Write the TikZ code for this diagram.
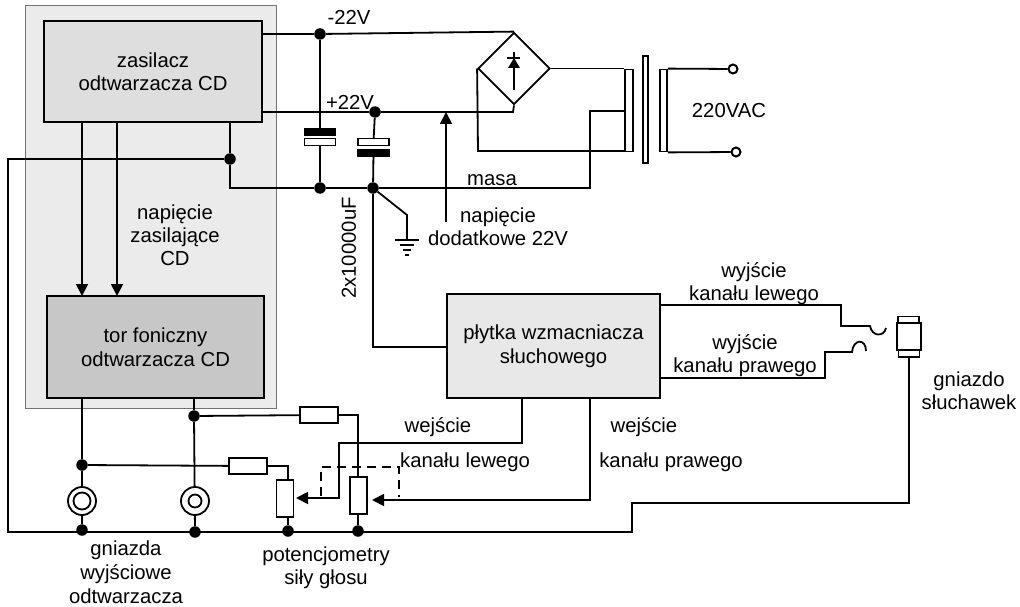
\documentclass[tikz,border=0pt]{standalone}
\usepackage{fontspec}
\setmainfont{Liberation Sans}
\usetikzlibrary{arrows.meta}
\usetikzlibrary{shapes.geometric}
\tikzset{
  wire/.style={line width=1.8pt},
  sig/.style={wire, -{Triangle[length=12pt,width=12pt]}},
  dot/.style={circle, fill=black, inner sep=0pt, minimum size=11.5pt},
  txt/.style={inner sep=0pt, font=\fontsize{20.3}{23}\selectfont, align=center},
  block/.style={draw, line width=1.8pt, inner sep=0pt, align=center, font=\fontsize{20.3}{23.5}\selectfont},
  part/.style={draw, line width=1.8pt, fill=white, inner sep=0pt},
  plate/.style={draw, fill=black, line width=1.4pt, inner sep=0pt, minimum width=31pt, minimum height=7pt},
  jack/.style={draw, circle, line width=1.8pt, fill=white, inner sep=0pt},
  term/.style={draw, circle, line width=2pt, fill=white, inner sep=0pt, minimum size=9pt}
}
\begin{document}
\begin{tikzpicture}[x=1pt, y=-1pt]
    \useasboundingbox (0,0) rectangle (1020,607);
    \node[draw=black!55, fill=black!8, line width=1pt, minimum width=251pt, minimum height=402pt, inner sep=0pt] (cd) at (150.5,207) {};
    \node[block, fill=black!13, minimum width=218pt, minimum height=101pt] (psu) at (153,71.5) {zasilacz\\odtwarzacza CD};
    \node[block, fill=black!22, minimum width=217pt, minimum height=102pt] (tor) at (155.5,347) {tor foniczny\\odtwarzacza CD};
    \node[block, fill=black!9, minimum width=213pt, minimum height=104pt] (amp) at (553.5,346) {płytka wzmacniacza\\słuchowego};

    % prostownik
    \node[draw, diamond, line width=1.8pt, aspect=1, minimum size=72pt, inner sep=0pt] (br) at (514,68.5) {};
    \coordinate (dd) at (514,90);
    \coordinate (du) at (514,52);
    \draw[line width=1.8pt] (dd) -- (du);
    \draw[line width=1.6pt] (507,58) -- (520,58);
    \fill (514,58) -- (520,68) -- (508,68) -- cycle;

    % transformator
    \node[part, minimum width=8pt, minimum height=82pt] (tp) at (629,110.5) {};
    \node[part, minimum width=5pt, minimum height=107pt] (tc) at (645.5,109.5) {};
    \node[part, minimum width=7pt, minimum height=82pt] (ts) at (663.5,110.5) {};
    \node[term] (ta) at (733,69) {};
    \node[term] (tb) at (736,152) {};
    \path[wire] (ts.north east) edge (ta)
                (ts.south east) edge (tb);

    % zasilanie
    \node[dot] (n1) at (320,34) {};
    \node[dot] (n2) at (375,112) {};
    \node[dot] (n3) at (320,188) {};
    \node[dot] (n4) at (373,188) {};
    \node[dot] (n5) at (230,159) {};
    \node[plate] (c1a) at (320,132) {};
    \node[plate, fill=white] (c1b) at (320,142) {};
    \node[plate, fill=white] (c2a) at (373.5,142) {};
    \node[plate] (c2b) at (373.5,153) {};
    \coordinate (pa) at (262,34);
    \coordinate (pb) at (262,112);
    \coordinate (pc) at (230,122);
    \coordinate (pd) at (230,188);
    \coordinate (be) at (513,112);
    \coordinate (me) at (590,188);
    \coordinate (mf) at (590,111);
    \coordinate (mg) at (625,111);
    \coordinate (ln) at (478,151);
    \coordinate (lm) at (625,151);
    \coordinate (pl) at (446,112);
    \coordinate (pk) at (446,222);
    \draw[wire] (pa) -- (n1) -- (br.north);
    \draw[wire] (pb) -- (n2) -- (be) -- (br.south);
    \draw[wire] (n1) -- (c1a);
    \draw[wire] (c1b) -- (n3);
    \draw[wire] (n2) -- (c2a);
    \draw[wire] (c2b) -- (n4);
    \draw[wire] (pc) -- (n5) -- (pd) -- (n3) -- (n4) -- (me) -- (mf) -- (mg);
    \draw[wire] (br.west) -- (ln) -- (lm);
    \draw[wire] (br.east) -- (br.east -| tp.west);
    \draw[sig] (pk) -- (pl);

    % uziemienie
    \coordinate (ga) at (407,215);
    \coordinate (gb) at (407,240);
    \draw[wire] (n4) -- (ga) -- (gb);
    \draw[wire] (395,240) -- (419,240);
    \draw[wire] (400,245) -- (414,245);
    \draw[wire] (403,250) -- (411,250);
    \draw[wire] (405,255) -- (409,255);
    \coordinate (am) at (373,347);
    \draw[wire] (n4) -- (am) -- (am -| amp.west);

    % zasilanie toru
    \coordinate (a1) at (82,122);
    \coordinate (a2) at (82,296);
    \coordinate (a3) at (117,122);
    \coordinate (a4) at (117,296);
    \draw[sig] (a1) -- (a2);
    \draw[sig] (a3) -- (a4);

    % gniazda i potencjometry
    \node[dot] (s1) at (82,465) {};
    \node[dot] (s2) at (194,416) {};
    \coordinate (b1) at (82,398);
    \coordinate (b2) at (194,398);
    \coordinate (k1) at (288,466);
    \coordinate (k2) at (358,415);
    \coordinate (k3) at (288,480);
    \node[dot] (g1) at (82,530) {};
    \node[dot] (g2) at (195,532) {};
    \node[dot] (g3) at (288,531) {};
    \node[dot] (g4) at (358,531) {};
    \draw[wire] (b1) -- (s1) -- (g1);
    \draw[wire] (b2) -- (s2) -- (g2);
    \node[jack, minimum size=28pt] (j1) at (82,501) {};
    \node[jack, minimum size=17pt] (j1i) at (82,501) {};
    \node[jack, minimum size=28pt] (j2) at (195,501) {};
    \node[jack, minimum size=13pt] (j2i) at (195,501) {};
    \node[part, minimum width=38pt, minimum height=16pt] (r1) at (248,466) {};
    \node[part, minimum width=38pt, minimum height=16pt] (r2) at (319,415) {};
    \draw[wire] (s1) -- (r1) -- (k1) -- (k3);
    \draw[wire] (s2) -- (r2) -- (k2) -- (g4);
    \draw[wire] (k3) -- (g3);
    \node[part, minimum width=17pt, minimum height=37pt] (p1) at (285,498.5) {};
    \node[part, minimum width=17pt, minimum height=37pt] (p2) at (358.5,495.5) {};

    % masa
    \coordinate (o1) at (8,159);
    \coordinate (o2) at (8,532);
    \coordinate (o3) at (632,532);
    \coordinate (o4) at (632,503);
    \coordinate (o5) at (909,503);
    \coordinate (o6) at (909,357);
    \draw[wire] (n5) -- (o1) -- (o2) -- (o3) -- (o4) -- (o5) -- (o6);

    % wejscia
    \coordinate (w1) at (522,398);
    \coordinate (w2) at (522,443);
    \coordinate (w3) at (339,443);
    \coordinate (w4) at (339,498);
    \coordinate (w5) at (296,498);
    \coordinate (v1) at (590,398);
    \coordinate (v2) at (590,500);
    \coordinate (v3) at (372,500);
    \draw[sig] (w1) -- (w2) -- (w3) -- (w4) -- (w5);
    \draw[sig] (v1) -- (v2) -- (v3);
    \coordinate (d1) at (321,496);
    \coordinate (d2) at (321,467);
    \coordinate (d3) at (399,467);
    \coordinate (d4) at (399,497);
    \draw[wire, dash pattern=on 9pt off 6pt] (d1) -- (d2) -- (d3) -- (d4);

    % wyjscia i gniazdo
    \coordinate (u1) at (660,305);
    \coordinate (u2) at (841,305);
    \coordinate (u3) at (841,326);
    \coordinate (u4) at (870,326);
    \coordinate (u5) at (886,328);
    \coordinate (l1) at (660,378);
    \coordinate (l2) at (825,378);
    \coordinate (l3) at (825,352);
    \coordinate (l4) at (852,352);
    \coordinate (l5) at (866,351);
    \draw[wire] (u1) -- (u2) -- (u3) -- (u4) .. controls (872,337) and (884,337) .. (u5);
    \draw[wire] (l1) -- (l2) -- (l3) -- (l4) .. controls (853,339) and (866,338) .. (l5);
    \node[part, minimum width=21pt, minimum height=7pt] (jc1) at (908.5,320) {};
    \node[part, minimum width=21pt, minimum height=7pt] (jc2) at (909,353.5) {};
    \node[part, minimum width=24pt, minimum height=27pt] (jb) at (909,336.5) {};

    % opisy
    \node[txt] (t1) at (349,17) {-22V};
    \node[txt] (t2) at (350,102) {+22V};
    \node[txt] (t3) at (492,180) {masa};
    \node[txt, rotate=90] (t4) at (349,248) {2x10000uF};
    \node[txt] (t5) at (175,235) {napięcie\\[0pt]zasilające\\[0pt]CD};
    \node[txt] (t6) at (498,227) {napięcie\\[0pt]dodatkowe 22V};
    \node[txt] (t7) at (729,111) {220VAC};
    \node[txt] (t8) at (754,284) {wyjście\\kanału lewego};
    \node[txt] (t9) at (745,356) {wyjście\\kanału prawego};
    \node[txt] (t10) at (969,391) {gniazdo\\słuchawek};
    \node[txt] (t11) at (438,427) {wejście};
    \node[txt] (t12) at (465,462) {kanału lewego};
    \node[txt] (t13) at (644,427) {wejście};
    \node[txt] (t14) at (671,462) {kanału prawego};
    \node[txt] (t15) at (126,572) {gniazda\\[1pt]wyjściowe\\[1pt]odtwarzacza};
    \node[txt] (t16) at (326,568) {potencjometry\\siły głosu};
\end{tikzpicture}
\end{document}
